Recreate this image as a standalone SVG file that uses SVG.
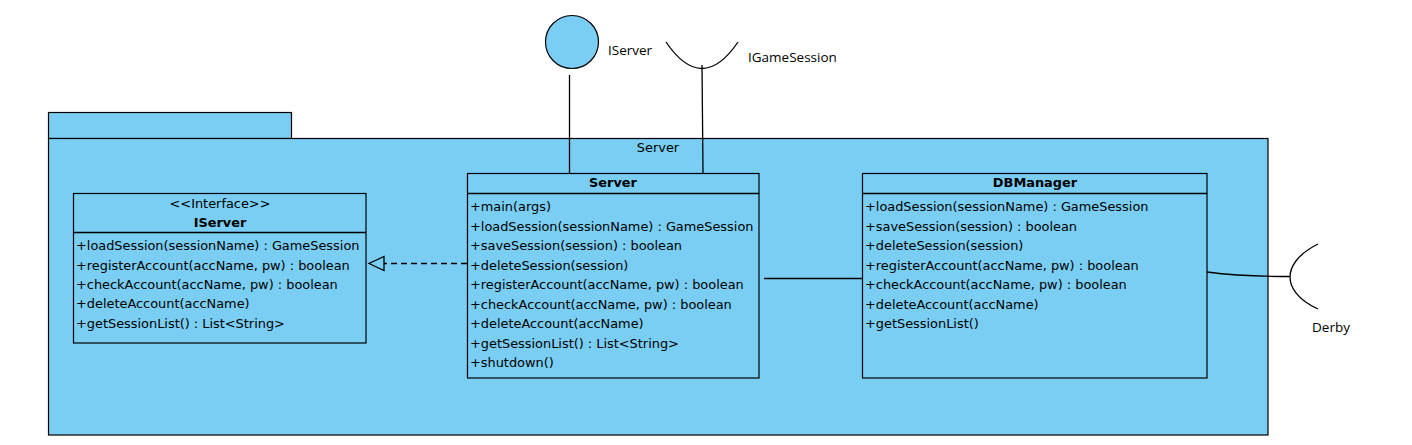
<svg xmlns="http://www.w3.org/2000/svg" width="1412" height="445" viewBox="0 0 1412 445">
<defs>
<style>
.box{fill:#7ACDF3;stroke:#000;stroke-width:1.2}
.ln{fill:none;stroke:#000;stroke-width:1.3}
.t{font-family:"DejaVu Sans",sans-serif;font-size:12.9px;fill:#000}
.b{font-weight:bold;text-anchor:middle}
.c{text-anchor:middle}
.lbl{font-family:"Open Sans","Liberation Sans",sans-serif;font-size:13.5px;fill:#000}
</style>
<marker id="real" markerWidth="18" markerHeight="18" refX="16" refY="8" orient="auto" markerUnits="userSpaceOnUse">
<path d="M16,8 L1,1 L1,15 Z" fill="#7ACDF3" stroke="#000" stroke-width="1.3"/>
</marker>
</defs>
<rect width="1412" height="445" fill="#fff"/>

<g id="package-Server">
<rect class="box" x="48.5" y="112.5" width="243" height="26"/>
<rect class="box" x="48.5" y="138.5" width="1219.5" height="296.5"/>
<text class="t c" x="658" y="151.5">Server</text>
</g>

<g id="iface-IServer">
<circle cx="572" cy="42" r="26.5" fill="#7ACDF3" stroke="#000" stroke-width="1.2"/>
<text class="lbl" x="608" y="55">IServer</text>
</g>

<g id="socket-IGameSession">
<path class="ln" d="M666,42 Q702,95 738,42" stroke-width="2"/>
<text class="lbl" x="748" y="62">IGameSession</text>
</g>

<g id="socket-Derby">
<path class="ln" d="M1318,244 C1296,255 1290,268 1290,277 C1290,286 1296,299 1318,309" stroke-width="2"/>
<text class="lbl" x="1312" y="332">Derby</text>
</g>

<g id="class-IServer">
<rect class="box" x="73.5" y="193.5" width="292.5" height="149.5"/>
<line class="ln" x1="73.5" y1="232.5" x2="366" y2="232.5" stroke-width="1.2"/>
<text class="t c" x="220" y="207.5">&lt;&lt;Interface&gt;&gt;</text>
<text class="t b" x="220" y="227">IServer</text>
<text class="t" x="76" y="249.5">+loadSession(sessionName) : GameSession</text>
<text class="t" x="76" y="269.5">+registerAccount(accName, pw) : boolean</text>
<text class="t" x="76" y="288.5">+checkAccount(accName, pw) : boolean</text>
<text class="t" x="76" y="308">+deleteAccount(accName)</text>
<text class="t" x="76" y="327.5">+getSessionList() : List&lt;String&gt;</text>
</g>

<g id="class-Server">
<rect class="box" x="467.5" y="173.5" width="291.5" height="204.5"/>
<line class="ln" x1="467.5" y1="193.5" x2="759" y2="193.5" stroke-width="1.2"/>
<text class="t b" x="613" y="187">Server</text>
<text class="t" x="470" y="211">+main(args)</text>
<text class="t" x="470" y="231">+loadSession(sessionName) : GameSession</text>
<text class="t" x="470" y="250">+saveSession(session) : boolean</text>
<text class="t" x="470" y="269.5">+deleteSession(session)</text>
<text class="t" x="470" y="289">+registerAccount(accName, pw) : boolean</text>
<text class="t" x="470" y="308.5">+checkAccount(accName, pw) : boolean</text>
<text class="t" x="470" y="328">+deleteAccount(accName)</text>
<text class="t" x="470" y="347.5">+getSessionList() : List&lt;String&gt;</text>
<text class="t" x="470" y="367">+shutdown()</text>
</g>

<g id="class-DBManager">
<rect class="box" x="862.5" y="173.5" width="344.5" height="204.5"/>
<line class="ln" x1="862.5" y1="193.5" x2="1207" y2="193.5" stroke-width="1.2"/>
<text class="t b" x="1035" y="187">DBManager</text>
<text class="t" x="865" y="211">+loadSession(sessionName) : GameSession</text>
<text class="t" x="865" y="231">+saveSession(session) : boolean</text>
<text class="t" x="865" y="250">+deleteSession(session)</text>
<text class="t" x="865" y="269.5">+registerAccount(accName, pw) : boolean</text>
<text class="t" x="865" y="289">+checkAccount(accName, pw) : boolean</text>
<text class="t" x="865" y="308.5">+deleteAccount(accName)</text>
<text class="t" x="865" y="328">+getSessionList()</text>
</g>

<g id="connectors">
<line class="ln" x1="569.5" y1="75" x2="569.5" y2="173"/>
<line class="ln" x1="702" y1="65" x2="703" y2="173" stroke-width="2"/>
<line class="ln" x1="764" y1="278.5" x2="862" y2="278.5"/>
<path class="ln" d="M1207,272 C1230,275 1250,276.5 1290,276.5" stroke-width="2"/>
<line class="ln" x1="467" y1="263.5" x2="369" y2="263.5" stroke-dasharray="6,4" marker-end="url(#real)"/>
</g>
</svg>
